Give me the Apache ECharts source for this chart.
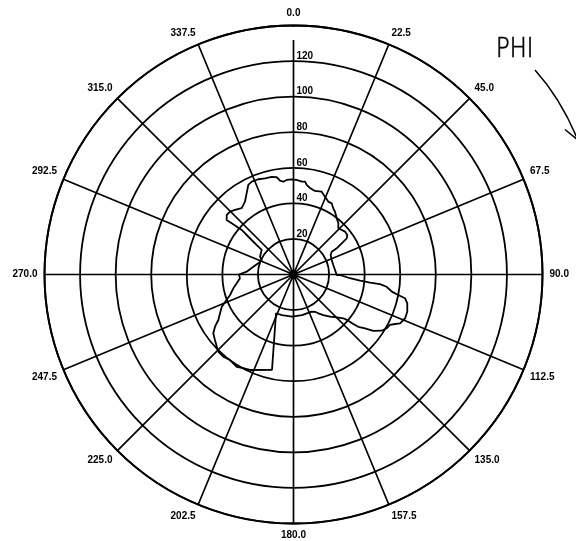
<!DOCTYPE html>
<html>
<head>
<meta charset="utf-8">
<script src="https://cdn.jsdelivr.net/npm/echarts@6/dist/echarts.min.js"></script>
<style>
  html, body { margin: 0; padding: 0; background: #ffffff; }
  #chart { width: 576px; height: 541px; }
</style>
</head>
<body>
<div id="chart"></div>
<script>
// Azimuth of each traced pattern point (degrees, clockwise from 0 at top)
const phiDeg = [
  0.0, 1.9, 5.1, 7.1, 8.4, 10.8, 14.4, 18.8, 22.0, 25.5, 28.2, 31.0, 33.5, 37.5, 41.2, 44.1,
  50.3, 53.7, 55.8, 57.1, 58.8, 59.2, 62.3, 69.2, 76.6, 83.8, 90.7, 90.6, 93.8, 95.3, 96.1, 96.3,
  97.5, 99.9, 101.1, 102.0, 104.2, 108.1, 111.4, 114.6, 116.0, 117.6, 120.0, 122.5, 125.2, 127.0,
  128.9, 129.6, 130.1, 131.3, 134.7, 139.1, 143.7, 147.4, 150.0, 153.9, 168.1, 182.0, 195.9, 204.3,
  192.7, 204.5, 208.2, 211.6, 216.6, 220.5, 224.3, 230.2, 233.8, 236.4, 238.8, 242.2, 245.8, 252.1,
  257.1, 261.2, 265.9, 270.0, 273.4, 281.0, 287.6, 294.5, 298.0, 307.6, 308.3, 309.5, 310.7, 309.6,
  309.2, 311.7, 314.7, 317.8, 322.0, 326.3, 330.0, 333.2, 335.8, 339.7, 343.5, 347.4, 350.2, 351.8,
  353.7, 355.9, 358.9, 360.0
];
// Radial value of each point on the 0..140 scale
const level = [
  53.4, 53.2, 52.4, 52.6, 50.9, 49.5, 48.5, 49.2, 47.2, 45.4, 45.4, 43.4, 42.3, 39.9, 38.3, 36.2,
  37.7, 37.5, 36.2, 32.3, 28.4, 25.0, 23.6, 23.0, 23.0, 23.5, 24.3, 26.1, 31.8, 37.6, 43.3, 48.9,
  52.8, 56.1, 60.0, 64.1, 66.0, 67.3, 67.4, 65.9, 63.5, 61.2, 60.5, 58.8, 54.9, 50.3,
  46.8, 43.6, 40.3, 37.3, 34.2, 31.4, 28.3, 25.9, 24.2, 23.3, 23.3, 23.7, 23.7, 23.9,
  55.0, 59.0, 59.8, 60.9, 59.9, 60.8, 60.6, 57.5, 55.9, 53.0, 49.4, 46.7, 44.2, 37.5,
  34.7, 32.3, 30.2, 30.6, 26.4, 23.0, 20.8, 19.6, 21.3, 22.6, 25.2, 30.5, 38.4, 45.1,
  48.5, 50.3, 50.2, 49.0, 47.3, 49.2, 52.7, 56.4, 57.2, 57.1, 56.4, 56.3, 55.5, 53.3,
  52.5, 53.3, 53.5, 53.4
];
// Labelled rings
const radiusTickLabels = [20, 40, 60, 80, 100, 120];
const radiusMax = 140;
const radiusStep = 20;
const angleStep = 22.5;

const ink = '#000000';
const labelFont = '"Liberation Sans", Arial, sans-serif';

const chart = echarts.init(document.getElementById('chart'), null, { renderer: 'canvas' });

chart.setOption({
  backgroundColor: '#ffffff',
  animation: false,
  polar: {
    center: [293.5, 274.5],
    radius: 249
  },
  angleAxis: {
    type: 'value',
    min: 0,
    max: 360,
    interval: angleStep,
    startAngle: 90,
    clockwise: true,
    axisLine: { show: true, lineStyle: { color: ink, width: 1.9 } },
    axisTick: { show: false },
    splitLine: { show: true, lineStyle: { color: ink, width: 1.7 } },
    axisLabel: {
      show: true,
      margin: 7,
      color: ink,
      fontFamily: labelFont,
      fontWeight: 'bold',
      fontSize: 10,
      formatter: v => v.toFixed(1)
    }
  },
  radiusAxis: {
    type: 'value',
    min: 0,
    max: radiusMax,
    interval: radiusStep,
    axisLine: { show: false },
    axisTick: { show: false },
    splitLine: { show: true, lineStyle: { color: ink, width: 1.8 } },
    axisLabel: {
      show: true,
      margin: -3,
      align: 'left',
      verticalAlign: 'bottom',
      color: ink,
      fontFamily: labelFont,
      fontWeight: 'bold',
      fontSize: 10,
      formatter: v => (radiusTickLabels.indexOf(v) >= 0 ? String(v) : '')
    }
  },
  series: [{
    type: 'line',
    coordinateSystem: 'polar',
    data: phiDeg.map((a, i) => [level[i], a]),
    showSymbol: false,
    symbol: 'none',
    smooth: false,
    lineStyle: { color: ink, width: 1.8 },
    z: 5
  }],
  graphic: [
    {
      // break in the 0° spoke just inside the outer circle
      type: 'rect',
      shape: { x: 291.5, y: 27, width: 4, height: 13 },
      style: { fill: '#ffffff' },
      z: 10
    },
    {
      type: 'text',
      x: 496,
      y: 36,
      scaleX: 0.84,
      style: {
        text: 'PHI',
        font: '200 27px "DejaVu Sans", sans-serif',
        fill: ink,
        stroke: ink,
        lineWidth: 0.7,
        textVerticalAlign: 'top'
      }
    },
    {
      type: 'bezierCurve',
      shape: { x1: 535, y1: 70, cpx1: 562, cpy1: 100, x2: 579, y2: 143 },
      style: { stroke: ink, lineWidth: 1.5, fill: null }
    },
    {
      type: 'line',
      shape: { x1: 565, y1: 129.5, x2: 579, y2: 141 },
      style: { stroke: ink, lineWidth: 1.5 }
    }
  ]
});
</script>
</body>
</html>
